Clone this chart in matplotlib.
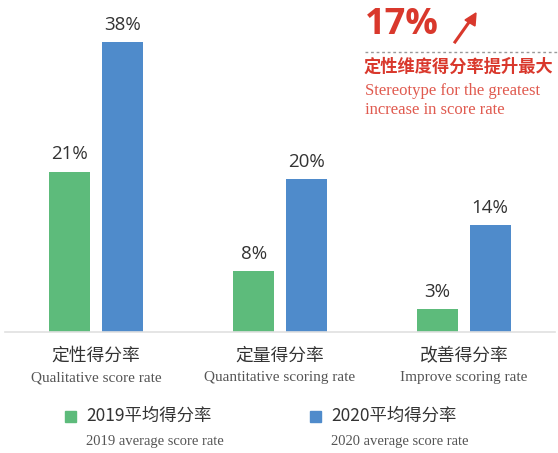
import numpy as np
import matplotlib.pyplot as plt

plt.rcParams['font.family'] = ['Noto Sans CJK SC', 'DejaVu Sans']

# data
categories_cn = ['定性得分率', '定量得分率', '改善得分率']
categories_en = ['Qualitative score rate', 'Quantitative scoring rate', 'Improve scoring rate']
score_2019 = [21, 8, 3]
score_2020 = [38, 20, 14]
legend_cn = ['2019平均得分率', '2020平均得分率']
legend_en = ['2019 average score rate', '2020 average score rate']

green = '#5dbb7b'
blue = '#4f8bcb'
red = '#d9382c'
W, H = 558, 453

fig = plt.figure(figsize=(W / 100, H / 100), dpi=100)
# axes: baseline at y=332px, left 5px, right 555px
ax = fig.add_axes([5 / W, (H - 332) / H, 550 / W, 332 / H])
x = np.arange(len(categories_cn))
bw = 0.223
b1 = ax.bar(x - 0.143, score_2019, bw, color=green)
b2 = ax.bar(x + 0.142, score_2020, bw, color=blue)
ax.set_xlim(-0.495, 2.495)
ax.set_ylim(0, 43.5)
for bars, vals in [(b1, score_2019), (b2, score_2020)]:
    for r, v in zip(bars, vals):
        ax.text(r.get_x() + r.get_width() / 2, v + 1.1, f'{v}%', ha='center', va='bottom',
                fontsize=13.5, color='#333333', family=['Open Sans', 'DejaVu Sans'])
for s in ['top', 'right', 'left']:
    ax.spines[s].set_visible(False)
ax.spines['bottom'].set_color('#e0e0e0')
ax.spines['bottom'].set_linewidth(1.2)
ax.set_xticks(x)
ax.set_xticklabels([''] * 3)
ax.tick_params(length=0)
ax.set_yticks([])

# category labels under the axis
for i in x:
    ax.text(i, -24 / 332, categories_cn[i], transform=ax.get_xaxis_transform(), ha='center', va='center',
            fontsize=12.8, color='#333333')
    ax.text(i, -46 / 332, categories_en[i], transform=ax.get_xaxis_transform(), ha='center', va='center',
            fontsize=11, color='#555555', family='Liberation Serif')

# legend
for xs, col, cn, en in [(65, green, legend_cn[0], legend_en[0]), (310, blue, legend_cn[1], legend_en[1])]:
    fig.patches.append(plt.Rectangle((xs / W, 1 - 422 / H), 11 / W, 11 / H, color=col,
                                     transform=fig.transFigure, figure=fig))
    fig.text((xs + 21) / W, 1 - 416 / H, cn, ha='left', va='center', fontsize=12.5, color='#333333')
    fig.text((xs + 21) / W, 1 - 441 / H, en, ha='left', va='center', fontsize=10.5, color='#555555',
             family='Liberation Serif')

# callout top right
fig.text(365 / W, 1 - 25 / H, '17%', ha='left', va='center', fontsize=26, fontweight='bold',
         color=red, family=['Open Sans', 'DejaVu Sans'])
fig.add_artist(plt.Line2D([455 / W, 472 / W], [1 - 42 / H, 1 - 18 / H], color=red, lw=2.2,
                          transform=fig.transFigure))
fig.patches.append(plt.Polygon([[476 / W, 1 - 13 / H], [465 / W, 1 - 20 / H], [475 / W, 1 - 26 / H]],
                               color=red, transform=fig.transFigure, figure=fig))
fig.add_artist(plt.Line2D([365 / W, 558 / W], [1 - 52 / H, 1 - 52 / H], color='#999999', lw=1,
                          ls=(0, (2, 2)), transform=fig.transFigure))
fig.text(364 / W, 1 - 67 / H, '定性维度得分率提升最大', ha='left', va='center', fontsize=12.4,
         fontweight='bold', color=red)
fig.text(365 / W, 1 - 91 / H, 'Stereotype for the greatest', ha='left', va='center', fontsize=12,
         color='#e05a4f', family='Liberation Serif')
fig.text(365 / W, 1 - 110 / H, 'increase in score rate', ha='left', va='center', fontsize=12,
         color='#e05a4f', family='Liberation Serif')

fig.savefig('out.png', dpi=100, facecolor='white')
